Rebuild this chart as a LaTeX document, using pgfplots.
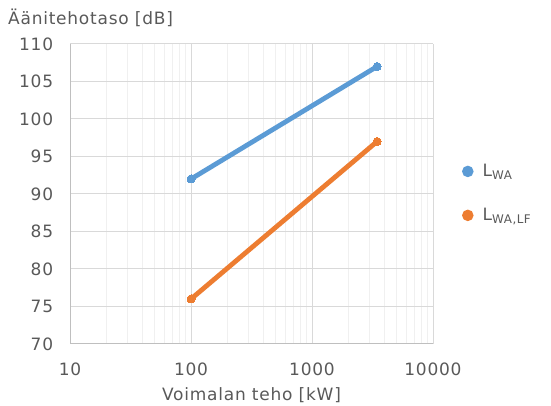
\documentclass[border=0pt]{standalone}
\usepackage{fontspec}
\setmainfont{DejaVu Sans}[LetterSpace=4.5]
\usepackage{pgfplots}
\pgfplotsset{compat=1.18}
\definecolor{sblue}{HTML}{5B9BD5}
\definecolor{sorange}{HTML}{ED7D31}
\definecolor{txt}{HTML}{595959}
\definecolor{gmaj}{HTML}{D9D9D9}
\definecolor{gmin}{HTML}{F0F0F0}
\definecolor{axl}{HTML}{BFBFBF}
\begin{document}
\fontsize{17}{20}\selectfont
\begin{tikzpicture}
\useasboundingbox (0pt,0pt) rectangle (551pt,406pt);
\begin{axis}[
  at={(70pt,62pt)}, anchor=south west,
  scale only axis, width=363pt, height=300pt,
  xmode=log, xmin=10, xmax=10000, ymin=70, ymax=110,
  ytick={70,75,...,110},
  xtick={10,100,1000,10000}, xticklabels={10,100,1000,10000},
  minor xtick={20,30,...,90,200,300,...,900,2000,3000,...,9000},
  /pgf/number format/assume math mode=true,
  ymajorgrids, xmajorgrids, xminorgrids,
  major grid style={draw=gmaj, line width=1pt},
  minor grid style={draw=gmin, line width=1pt},
  axis x line*=bottom, axis y line*=left,
  axis line style={draw=axl, line width=1pt, -},
  major tick length=0pt, minor tick length=0pt,
  tick label style={font=\fontsize{17}{20}\selectfont, text=txt},
  y tick label style={xshift=-11pt},
  x tick label style={yshift=-13pt},
  xlabel={Voimalan teho [kW]},
  xlabel style={at={(axis description cs:0.5,0)}, anchor=center, yshift=-51pt, font=\fontsize{17}{20}\selectfont, text=txt},
  title={Äänitehotaso [dB]},
  title style={at={(axis description cs:0,1)}, anchor=west, inner sep=0pt, xshift=-62pt, yshift=20.5pt, font=\fontsize{17}{20}\selectfont, text=txt},
  legend style={at={(axis description cs:1,0.502)}, anchor=west, xshift=29pt, draw=none, fill=none,
    font=\fontsize{17}{20}\selectfont, text=txt, row sep=25pt, inner sep=0pt},
  legend cell align=left,
  legend image code/.code={\fill[#1] (0pt,0pt) circle (3.2pt); \path (-3.2pt,0pt) (10.5pt,0pt);},
]
\addplot[color=sblue, line width=4.8pt, mark=*, mark size=4pt, mark options={line width=0pt}]
  coordinates {(100,92) (3450,107)};
\addlegendentry{L\textsubscript{WA}}
\addplot[color=sorange, line width=4.8pt, mark=*, mark size=4pt, mark options={line width=0pt}]
  coordinates {(100,76) (3450,97)};
\addlegendentry{L\textsubscript{WA,LF}}
\end{axis}
\end{tikzpicture}
\end{document}
